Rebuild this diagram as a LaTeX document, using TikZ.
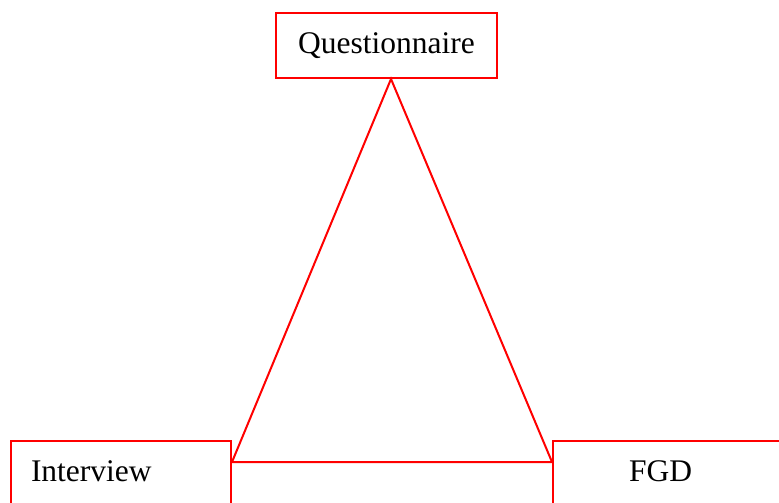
\documentclass[tikz,border=0pt]{standalone}
\usepackage{fontspec}
\setmainfont{Liberation Serif}
\usetikzlibrary{positioning}

\begin{document}
\begin{tikzpicture}[
                x=0.5pt,
                y=-0.5pt,
                method/.style={draw=red, line width=1pt, rectangle, inner ysep=0pt,
                    minimum height=32.5pt, text height=11pt, text depth=3pt,
                    font=\fontsize{15.75}{19}\selectfont},
                link/.style={draw=red, line width=1pt, line join=miter},
            ]
            \useasboundingbox (0,0) rectangle (779,502);

            % Top box
            \node[method, inner xsep=0pt, minimum width=110.5pt] (quest) at (386.5,45.5) {Questionnaire};

            % Bottom boxes (cut by the page edge)
            \node[method, anchor=north west, inner xsep=10pt, text width=90pt, align=left] (intv) at (10,440) {Interview};
            \node[method, anchor=north west, inner xsep=38pt, text width=44pt, align=left] (fgd) at (552,440) {FGD};

            % Triangle between the three methods
            \draw[link] ([xshift=2.25pt]quest.south) -- ([yshift=-11pt]intv.north east)
                -- ([yshift=-11pt]fgd.north west) -- cycle;
        \end{tikzpicture}
\end{document}
